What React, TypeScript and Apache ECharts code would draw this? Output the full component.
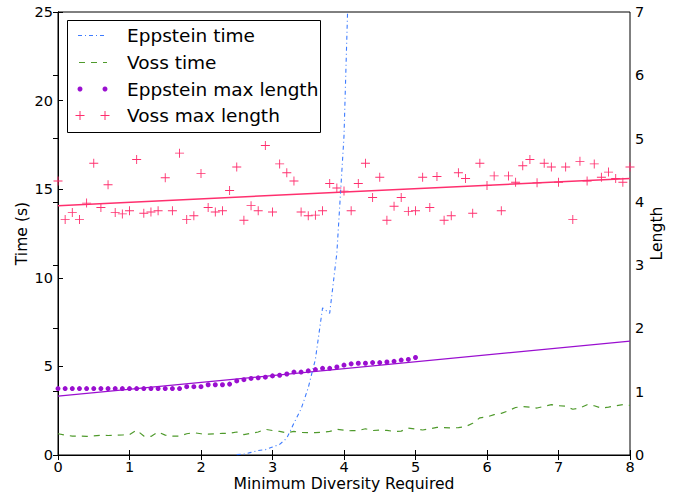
import React, { useEffect, useRef } from "react";
import * as echarts from "echarts";

const xSteps = [
  0.0, 0.1, 0.2, 0.3, 0.4, 0.5, 0.6, 0.7, 0.8, 0.9,
  1.0, 1.1, 1.2, 1.3, 1.4, 1.5, 1.6, 1.7, 1.8, 1.9,
  2.0, 2.1, 2.2, 2.3, 2.4, 2.5, 2.6, 2.7, 2.8, 2.9,
  3.0, 3.1, 3.2, 3.3, 3.4, 3.5, 3.6, 3.7, 3.8, 3.9,
  4.0, 4.1, 4.2, 4.3, 4.4, 4.5, 4.6, 4.7, 4.8, 4.9,
  5.0, 5.1, 5.2, 5.3, 5.4, 5.5, 5.6, 5.7, 5.8, 5.9,
  6.0, 6.1, 6.2, 6.3, 6.4, 6.5, 6.6, 6.7, 6.8, 6.9,
  7.0, 7.1, 7.2, 7.3, 7.4, 7.5, 7.6, 7.7, 7.8, 7.9,
  8.0,
];

// Eppstein time (s), from x = 2.5 to 4.1
const eppsteinTimeX = [2.5, 2.6, 2.7, 2.8, 2.9, 3.0, 3.1, 3.2, 3.3, 3.4, 3.5, 3.6, 3.7, 3.8, 3.9, 4.0, 4.1];
const eppsteinTime = [0.02, 0.05, 0.15, 0.25, 0.3, 0.45, 0.6, 0.95, 1.8, 2.6, 3.8, 5.4, 8.3, 8.0, 11.4, 18, 32];

// Voss time (s), x = 0..8
const vossTime = [
  1.2, 1.12, 1.07, 1.07, 1.05, 1.08, 1.11, 1.1, 1.11, 1.13,
  1.15, 1.4, 1.07, 1.05, 1.3, 1.12, 1.07, 1.07, 1.2, 1.26,
  1.2, 1.18, 1.2, 1.22, 1.22, 1.3, 1.15, 1.22, 1.3, 1.45,
  1.38, 1.33, 1.25, 1.33, 1.27, 1.26, 1.26, 1.28, 1.33, 1.45,
  1.4, 1.37, 1.38, 1.48, 1.38, 1.41, 1.39, 1.33, 1.35, 1.52,
  1.47, 1.41, 1.48, 1.56, 1.55, 1.53, 1.54, 1.6, 1.79, 2.1,
  2.15, 2.28, 2.35, 2.5, 2.68, 2.73, 2.7, 2.65, 2.75, 2.84,
  2.78, 2.75, 2.58, 2.65, 2.84, 2.78, 2.65, 2.7, 2.78, 2.84,
  2.8,
];

// Eppstein max length, x = 0..5
const eppsteinMaxLength = [
  1.05, 1.05, 1.05, 1.05, 1.05, 1.05, 1.05, 1.05, 1.05, 1.05,
  1.05, 1.05, 1.05, 1.05, 1.05, 1.05, 1.05, 1.05, 1.08, 1.08,
  1.08, 1.11, 1.11, 1.11, 1.12, 1.17, 1.19, 1.21, 1.22, 1.23,
  1.25, 1.26, 1.28, 1.31, 1.31, 1.33, 1.35, 1.37, 1.37, 1.39,
  1.42, 1.44, 1.45, 1.45, 1.46, 1.46, 1.47, 1.48, 1.5, 1.51,
  1.54,
];

// Voss max length, x = 0..8
const vossMaxLength = [
  4.33, 3.72, 3.83, 3.72, 3.98, 4.61, 3.91, 4.27, 3.83, 3.81,
  3.86, 4.67, 3.82, 3.84, 3.86, 4.38, 3.86, 4.77, 3.72, 3.78,
  4.45, 3.91, 3.84, 3.86, 4.18, 4.55, 3.71, 3.94, 3.86, 4.89,
  3.84, 4.6, 4.46, 4.33, 3.84, 3.78, 3.79, 3.86, 4.29, 4.22,
  4.17, 3.86, 4.29, 4.61, 4.07, 4.39, 3.71, 3.93, 4.07, 3.85,
  3.86, 4.39, 3.91, 4.4, 3.71, 3.78, 4.46, 4.37, 3.82, 4.61,
  4.26, 4.41, 3.86, 4.41, 4.31, 4.57, 4.67, 4.3, 4.61, 4.55,
  4.31, 4.55, 3.72, 4.64, 4.33, 4.6, 4.39, 4.47, 4.37, 4.31,
  4.55,
];

// fitted trend lines (endpoints)
const fitX = [0, 8];
const eppsteinFit = [0.93, 1.8];
const vossFit = [3.94, 4.37];

const legendLabels = ["Eppstein time", "Voss time", "Eppstein max length", "Voss max length"];
const xTicks = ["0", "1", "2", "3", "4", "5", "6", "7", "8"];

const BLUE = "#3d7bff";
const GREEN = "#4f9a2c";
const PURPLE = "#9a0fd0";
const PINK = "#ff2f6e";
const FONT = "DejaVu Sans";
const TICK_FS = 14.5;
const NAME_FS = 15.6;

const PLUS = "path://M4.5,0h1v4.5h4.5v1h-4.5v4.5h-1v-4.5h-4.5v-1h4.5z";

export default function App() {
  const ref = useRef<HTMLDivElement>(null);
  useEffect(() => {
    if (!ref.current) return;
    const chart = echarts.init(ref.current, null, { renderer: "svg" });
    const pair = (xsArr: number[], ys: number[]) => ys.map((v, i) => [xsArr[i], v]);
    const rowY = [35.5, 62.5, 89, 115.5];
    const s1 = 80, s2 = 105;
    const tickStyle = { show: true, inside: true, length: 5, lineStyle: { color: "#000" } };
    const option: any = {
      animation: false,
      textStyle: { fontFamily: FONT },
      grid: {
        left: 58, right: 48, top: 12, bottom: 38, show: true, borderColor: "#000", borderWidth: 1,
        backgroundColor: "transparent", containLabel: false, outerBoundsMode: "none",
      },
      xAxis: [
        {
          type: "value", min: 0, max: 8, interval: 1,
          name: "Minimum Diversity Required", nameLocation: "middle", nameGap: 21, nameMoveOverlap: false,
          nameTextStyle: { fontSize: NAME_FS, color: "#000", fontFamily: FONT },
          axisLine: { show: true, lineStyle: { color: "#000" } },
          axisTick: tickStyle,
          axisLabel: { fontSize: TICK_FS, color: "#000", margin: 4, fontFamily: FONT, formatter: (v: number) => xTicks[Math.round(v)] ?? "" },
          splitLine: { show: false },
        },
        {
          type: "value", min: 0, max: 8, interval: 1, position: "top",
          axisLine: { show: true, lineStyle: { color: "#000" } },
          axisTick: tickStyle,
          axisLabel: { show: false },
          splitLine: { show: false },
        },
      ],
      yAxis: [
        {
          type: "value", min: 0, max: 25, interval: 5,
          name: "Time (s)", nameLocation: "middle", nameGap: 28, nameMoveOverlap: false,
          nameTextStyle: { fontSize: NAME_FS, color: "#000", fontFamily: FONT },
          axisLine: { show: true, lineStyle: { color: "#000" } },
          axisTick: tickStyle,
          axisLabel: { fontSize: TICK_FS, color: "#000", margin: 5, fontFamily: FONT },
          splitLine: { show: false },
        },
        {
          type: "value", min: 0, max: 7, interval: 1, position: "right",
          name: "Length", nameLocation: "middle", nameGap: 19, nameRotate: 90, nameMoveOverlap: false,
          nameTextStyle: { fontSize: NAME_FS, color: "#000", fontFamily: FONT },
          axisLine: { show: true, lineStyle: { color: "#000" } },
          axisTick: tickStyle,
          axisLabel: { fontSize: TICK_FS, color: "#000", margin: 5, fontFamily: FONT },
          splitLine: { show: false },
        },
      ],
      series: [
        {
          name: "Voss max length fit", type: "line", yAxisIndex: 1, showSymbol: false, symbol: "none",
          data: pair(fitX, vossFit), lineStyle: { color: PINK, width: 1.5 }, z: 2,
        },
        {
          name: "Eppstein max length fit", type: "line", yAxisIndex: 1, showSymbol: false, symbol: "none",
          data: pair(fitX, eppsteinFit), lineStyle: { color: PURPLE, width: 1.2 }, z: 2,
        },
        {
          name: "Voss time", type: "line", yAxisIndex: 0, showSymbol: false, symbol: "none",
          data: pair(xSteps, vossTime), lineStyle: { color: GREEN, width: 1.2, type: [6, 6] }, z: 3,
        },
        {
          name: "Eppstein time", type: "line", yAxisIndex: 0, showSymbol: false, symbol: "none", clip: true,
          data: pair(eppsteinTimeX, eppsteinTime), lineStyle: { color: BLUE, width: 1.1, type: [4, 3, 1, 3] }, z: 3,
        },
        {
          name: "Eppstein max length", type: "scatter", yAxisIndex: 1, symbol: "circle", symbolSize: 5,
          data: pair(xSteps, eppsteinMaxLength), itemStyle: { color: PURPLE, opacity: 1 }, z: 4,
        },
        {
          name: "Voss max length", type: "scatter", yAxisIndex: 1, symbol: PLUS, symbolSize: 9,
          data: pair(xSteps, vossMaxLength), itemStyle: { color: PINK, opacity: 1 }, z: 4,
        },
      ],
      graphic: [
        {
          type: "group", z: 100,
          children: [
            { type: "rect", shape: { x: 67.5, y: 20.5, width: 253, height: 112 }, style: { fill: "#fff", stroke: "#000", lineWidth: 1 } },
            { type: "line", shape: { x1: s1 - 2, y1: rowY[0], x2: s2 + 2, y2: rowY[0] }, style: { stroke: BLUE, lineWidth: 1.1, lineDash: [4, 3, 1, 3] } },
            { type: "line", shape: { x1: s1 - 1, y1: rowY[1], x2: s2 + 2, y2: rowY[1] }, style: { stroke: GREEN, lineWidth: 1.2, lineDash: [6, 6] } },
            { type: "circle", shape: { cx: s1, cy: rowY[2], r: 2.5 }, style: { fill: PURPLE } },
            { type: "circle", shape: { cx: s2, cy: rowY[2], r: 2.5 }, style: { fill: PURPLE } },
            { type: "line", shape: { x1: s1 - 4.5, y1: rowY[3], x2: s1 + 4.5, y2: rowY[3] }, style: { stroke: PINK, lineWidth: 1 } },
            { type: "line", shape: { x1: s1, y1: rowY[3] - 4.5, x2: s1, y2: rowY[3] + 4.5 }, style: { stroke: PINK, lineWidth: 1 } },
            { type: "line", shape: { x1: s2 - 4.5, y1: rowY[3], x2: s2 + 4.5, y2: rowY[3] }, style: { stroke: PINK, lineWidth: 1 } },
            { type: "line", shape: { x1: s2, y1: rowY[3] - 4.5, x2: s2, y2: rowY[3] + 4.5 }, style: { stroke: PINK, lineWidth: 1 } },
            ...legendLabels.map((t, i) => ({
              type: "text", x: 127, y: rowY[i],
              style: { text: t, fill: "#000", font: `18.5px '${FONT}'`, verticalAlign: "middle" },
            })),
          ],
        },
      ],
    };
    chart.setOption(option);
    return () => chart.dispose();
  }, []);
  return <div ref={ref} style={{ position: "fixed", left: 0, top: 0, width: 678, height: 493, background: "#fff" }} />;
}
